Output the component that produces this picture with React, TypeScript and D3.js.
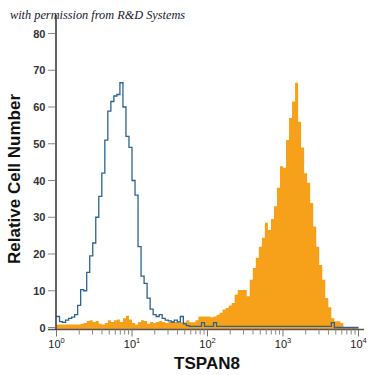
import React from "react";
import * as d3 from "d3";

// histogram bins: each bin spans 0.04 decades, starting at 10^0
const binWidthDecades = 0.04;

// isotype control (blue outline)
const controlCounts = [
  3, 1.6, 1.4, 2, 2.5, 2.8, 3.5, 6, 10.3, 10,
  15, 19.5, 23, 30, 35.7, 42, 51, 58.9, 61.5, 63,
  63.4, 66.6, 60, 52, 49, 40, 36, 22, 14, 12,
  8, 5, 3.5, 3, 3.5, 2.5, 2, 1.8, 1.5, 2,
  1.5, 3, 1, 0.5, 0.3, 0.3, 0.3, 0.3, 1.3, 0.3,
  0.3, 0.3, 1.3, 0.3, 0.3, 0.3, 0.3, 0.3, 0.3, 0.3,
  0.3, 0.3, 0.3, 0.3, 0.3, 0.3, 0.3, 0.3, 0.3, 0.3,
  0.3, 0.3, 0.3, 0.3, 0.3, 0.3, 0.3, 0.3, 0.3, 0.3,
  0.3, 0.3, 0.3, 0.3, 0.3, 0.3, 0.3, 0.3, 0.3, 0.3,
  0.3, 1.3, 0, 0, 0, 0, 0, 0, 0, 0,
];

// TSPAN8 stained (orange fill)
const stainedCounts = [
  0.8, 0.8, 0.8, 0.8, 0.8, 0.8, 0.8, 0.8, 1.0, 1.2,
  1.8, 2, 1.5, 1.8, 1, 0.8, 1.2, 2, 1.5, 2,
  2.2, 1.5, 2.5, 3.2, 2.2, 1.2, 0.8, 1.5, 2, 1.8,
  1, 1.5, 1.2, 1.5, 1.8, 1.5, 1.2, 1.5, 1.8, 1.5,
  1.2, 1.4, 1.4, 2, 1.4, 1.4, 2, 3, 3, 3,
  3, 2.8, 3, 3.5, 4, 4.9, 5.3, 6, 6.7, 9,
  10.2, 10.2, 10.2, 8.5, 13, 16.2, 19, 22, 24.4, 28.5,
  26.5, 29.5, 33, 38, 43.9, 43.5, 51, 57, 61.5, 66.6,
  56, 49, 42, 39.4, 33.9, 27.5, 22, 17, 13, 8,
  5.5, 2.5, 1.7, 1.7, 1.2, 0, 0, 0, 0, 0,
];

const yTicks = [0, 10, 20, 30, 40, 50, 60, 70, 80];
const xMajorTicks = [1, 10, 100, 1000, 10000];
const xMajorExponents = ["0", "1", "2", "3", "4"];
const xTitle = "TSPAN8";
const yTitle = "Relative Cell Number";
const credit = "with permission from R&D Systems";

export default function App() {
  const W = 375;
  const H = 375;
  const x = d3.scaleLog().domain([1, 10000]).range([56.5, 358.5]);
  const y = d3.scaleLinear().domain([0, 80]).range([327.5, 33.5]);
  const axisY = 329.5;

  const edge = (i: number) => Math.pow(10, i * binWidthDecades);

  const pts = (arr: number[]) => {
    const p: [number, number][] = arr.map((v, i) => [edge(i), v]);
    p.push([edge(arr.length), arr[arr.length - 1]]);
    return p;
  };

  const area = d3
    .area<[number, number]>()
    .x((d) => x(d[0]))
    .y0(axisY)
    .y1((d) => y(d[1]))
    .curve(d3.curveStepAfter);

  const line = d3
    .line<[number, number]>()
    .x((d) => x(d[0]))
    .y((d) => y(d[1]))
    .curve(d3.curveStepAfter);

  const minorTicks: number[] = [];
  for (let d = 0; d < 4; d++) {
    for (let k = 2; k <= 9; k++) minorTicks.push(k * Math.pow(10, d));
  }

  return (
    <svg width={W} height={H} style={{ position: "absolute", left: 0, top: 0, background: "#fff" }}>
      <rect width={W} height={H} fill="#fff" />
      <path d={area(pts(stainedCounts)) || ""} fill="#F7A11A" stroke="none" />
      <path d={line(pts(controlCounts)) || ""} fill="none" stroke="#2c6390" strokeWidth={1.3} />

      {/* x axis */}
      <line x1={48} x2={364} y1={axisY} y2={axisY} stroke="#555" strokeWidth={1.3} />
      {xMajorTicks.map((t) => (
        <line key={"M" + t} x1={x(t)} x2={x(t)} y1={axisY} y2={axisY + 7} stroke="#777" strokeWidth={1} />
      ))}
      {minorTicks.map((t) => (
        <line key={"m" + t} x1={x(t)} x2={x(t)} y1={axisY} y2={axisY + 5} stroke="#888" strokeWidth={1} />
      ))}
      {xMajorTicks.map((t, i) => (
        <text
          key={"l" + t}
          x={x(t)}
          y={348}
          textAnchor="middle"
          fontFamily="Liberation Sans, Arial, sans-serif"
          fontSize={11}
          fill="#222"
        >
          10
          <tspan fontSize={7.5} dy={-5}>
            {xMajorExponents[i]}
          </tspan>
        </text>
      ))}
      <text
        x={207}
        y={369}
        textAnchor="middle"
        fontFamily="Liberation Sans, Arial, sans-serif"
        fontWeight="bold"
        fontSize={17}
        fill="#111"
      >
        {xTitle}
      </text>

      {/* y axis */}
      <line x1={56} x2={56} y1={15} y2={axisY} stroke="#111" strokeWidth={1.3} />
      {yTicks.map((t) => (
        <g key={"y" + t}>
          <line x1={48} x2={55} y1={y(t)} y2={y(t)} stroke="#888" strokeWidth={1} />
          <text
            x={45.5}
            y={y(t) + 4}
            textAnchor="end"
            fontFamily="Liberation Sans, Arial, sans-serif"
            fontWeight="bold"
            fontSize={11}
            fill="#333"
          >
            {t}
          </text>
        </g>
      ))}
      <text
        transform="translate(20,179) rotate(-90)"
        textAnchor="middle"
        fontFamily="Liberation Sans, Arial, sans-serif"
        fontWeight="bold"
        fontSize={17}
        fill="#111"
      >
        {yTitle}
      </text>

      <text
        x={10}
        y={19}
        fontFamily="Liberation Serif, serif"
        fontStyle="italic"
        fontSize={12.3}
        fill="#14182e"
      >
        {credit}
      </text>
    </svg>
  );
}
